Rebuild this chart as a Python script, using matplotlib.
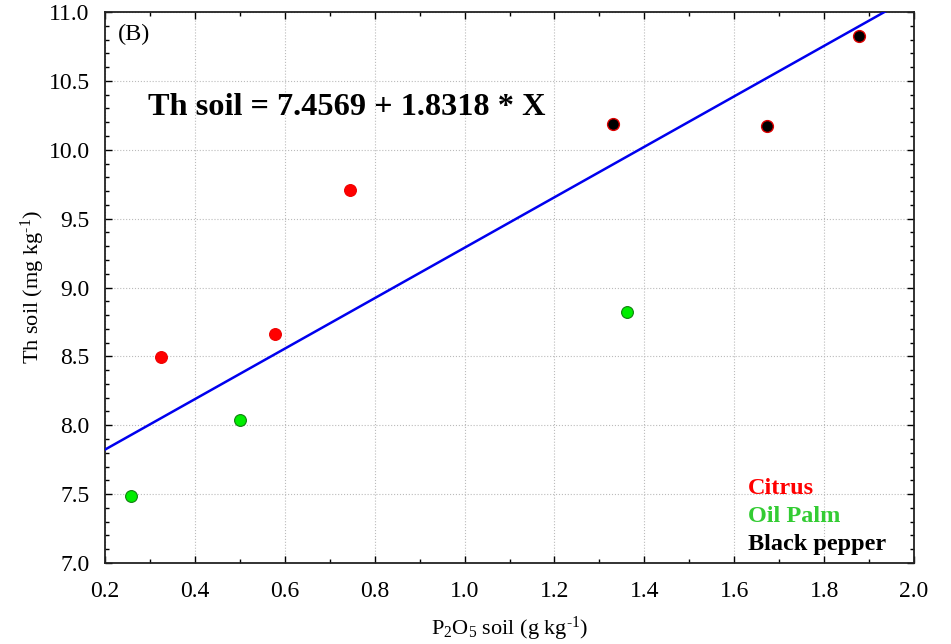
import matplotlib
matplotlib.use("Agg")
import matplotlib.pyplot as plt
from matplotlib.ticker import MultipleLocator
import numpy as np

plt.rcParams['font.family'] = ['Liberation Serif', 'DejaVu Serif']
plt.rcParams['mathtext.fontset'] = 'custom'
plt.rcParams['mathtext.rm'] = 'Liberation Serif'
plt.rcParams['mathtext.it'] = 'Liberation Serif:italic'
plt.rcParams['mathtext.bf'] = 'Liberation Serif:bold'

# Data
citrus_x = [0.325, 0.578, 0.745]
citrus_y = [8.495, 8.66, 9.71]
palm_x = [0.258, 0.50, 1.362]
palm_y = [7.486, 8.04, 8.82]
pepper_x = [1.330, 1.673, 1.878]
pepper_y = [10.19, 10.17, 10.826]
intercept = 7.4569
slope = 1.8318
legend_labels = ["Citrus", "Oil Palm", "Black pepper"]
legend_colors = ["#ff0000", "#33cc33", "#000000"]

fig = plt.figure(figsize=(9.51, 6.44), dpi=100)
ax = fig.add_axes([105/951, 1 - 563/644, (914-105)/951, (563-12)/644])

ax.set_xlim(0.2, 2.0)
ax.set_ylim(7.0, 11.0)

xs = np.array([0.2, 2.0])
ax.plot(xs, intercept + slope * xs, color='#0000ee', lw=1.8, zorder=3)

ax.plot(citrus_x, citrus_y, 'o', ms=8.5, mfc='#ff0000', mec='#ee0000', mew=0.8, zorder=4)
ax.plot(palm_x, palm_y, 'o', ms=8.5, mfc='#00ee00', mec='#108010', mew=0.8, zorder=4)
ax.plot(pepper_x, pepper_y, 'o', ms=8.5, mfc='#000000', mec='#dd0000', mew=1.0, zorder=4)

ax.xaxis.set_major_locator(MultipleLocator(0.2))
ax.xaxis.set_minor_locator(MultipleLocator(0.1))
ax.yaxis.set_major_locator(MultipleLocator(0.5))
ax.yaxis.set_minor_locator(MultipleLocator(0.1))
ax.xaxis.set_major_formatter(plt.FormatStrFormatter('%.1f'))
ax.yaxis.set_major_formatter(plt.FormatStrFormatter('%.1f'))

ax.tick_params(which='both', direction='in', top=True, right=True, width=1.0)
ax.tick_params(which='major', length=5, labelsize=17)
ax.tick_params(which='minor', length=3)
ax.tick_params(axis='x', which='major', pad=13)
ax.tick_params(axis='y', which='major', pad=11)

ax.grid(True, which='major', color='#bbbbbb', linestyle=':', linewidth=0.8)
for s in ax.spines.values():
    s.set_linewidth(1.3)
    s.set_color('#222222')

ax.set_xlabel(r"P$_2$O$_5$ soil (g kg$^{\text{-1}}$)", fontsize=16, labelpad=9)
ax.set_ylabel(r"Th soil (mg kg$^{\text{-1}}$)", fontsize=16, labelpad=1)

ax.text(0.016, 0.978, "(B)", transform=ax.transAxes, fontsize=17.5, va='top', ha='left')
ax.text(0.053, 0.826, "Th soil = 7.4569 + 1.8318 * X", transform=ax.transAxes,
        fontsize=23.3, fontweight='bold', va='center', ha='left')

for i, (lab, col) in enumerate(zip(legend_labels, legend_colors)):
    ax.text(0.795, 0.135 - i * 0.0508, lab, transform=ax.transAxes, fontsize=17.5,
            fontweight='bold', color=col, va='center', ha='left')

fig.savefig("out.png", dpi=100)
